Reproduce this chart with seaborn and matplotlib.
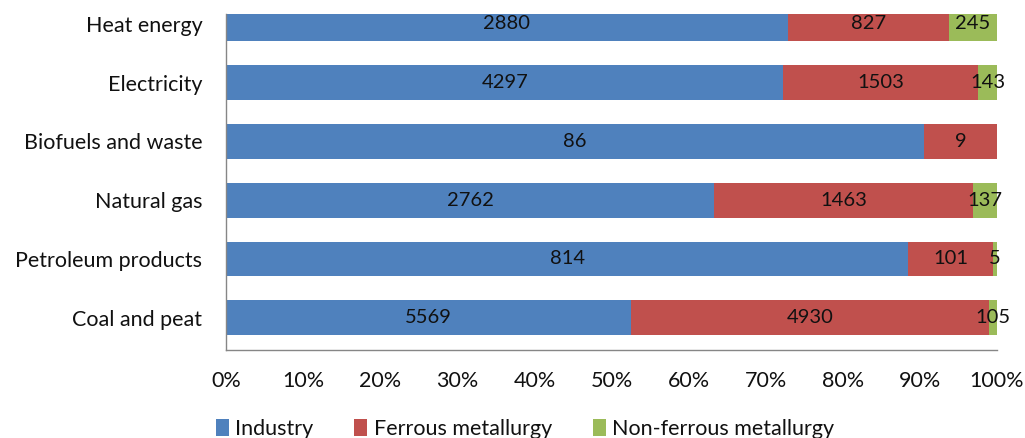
import numpy as np
import pandas as pd
import matplotlib
matplotlib.use("Agg")
import matplotlib.pyplot as plt
import seaborn as sns
from matplotlib.patches import Patch

categories = ["Heat energy", "Electricity", "Biofuels and waste",
              "Natural gas", "Petroleum products", "Coal and peat"]
industry = [2880, 4297, 86, 2762, 814, 5569]
ferrous = [827, 1503, 9, 1463, 101, 4930]
nonferrous = [245, 143, 0, 137, 5, 105]
series_names = ["Industry", "Ferrous metallurgy", "Non-ferrous metallurgy"]
colors = ["#4F81BD", "#C0504D", "#9BBB59"]
xtick_labels = ["0%", "10%", "20%", "30%", "40%", "50%", "60%", "70%", "80%", "90%", "100%"]

sns.set_style("white")
plt.rcParams["font.family"] = ["Lato", "DejaVu Sans"]

ind = np.array(industry, float)
fer = np.array(ferrous, float)
non = np.array(nonferrous, float)
tot = ind + fer + non
p_ind = ind / tot * 100
p_fer = fer / tot * 100
p_non = non / tot * 100

df = pd.DataFrame({
    "cat": categories,
    "c1": p_ind,
    "c2": p_ind + p_fer,
    "c3": p_ind + p_fer + p_non,
})

fig = plt.figure(figsize=(10.25, 4.38), dpi=100)
ax = fig.add_axes([226 / 1025, 1 - 350 / 438, (997 - 226) / 1025, (350 - 14) / 438])

w = 0.59
sns.barplot(data=df, x="c3", y="cat", order=categories, color=colors[2],
            saturation=1, width=w, linewidth=0, ax=ax, orient="h")
sns.barplot(data=df, x="c2", y="cat", order=categories, color=colors[1],
            saturation=1, width=w, linewidth=0, ax=ax, orient="h")
sns.barplot(data=df, x="c1", y="cat", order=categories, color=colors[0],
            saturation=1, width=w, linewidth=0, ax=ax, orient="h")

# labels centred in each segment
lefts = [np.zeros(len(categories)), p_ind, p_ind + p_fer]
widths = [p_ind, p_fer, p_non]
vals = [ind, fer, non]
for l, wd, v in zip(lefts, widths, vals):
    for i in range(len(categories)):
        if v[i] > 0:
            ax.text(l[i] + wd[i] / 2, i, f"{int(v[i])}", ha="center", va="center",
                    fontsize=14.5, color="#111111")

ax.set_xlim(0, 100)
ax.set_ylim(5.55, -0.17)
ax.set_xticks(np.arange(0, 101, 10))
ax.set_xticklabels(xtick_labels, fontsize=15.5, color="#111111")
ax.tick_params(axis="x", length=0, pad=15)
ax.tick_params(axis="y", length=0, pad=17, labelsize=15.5, labelcolor="#111111")
ax.set_xlabel("")
ax.set_ylabel("")
for s in ["top", "right"]:
    ax.spines[s].set_visible(False)
for s in ["left", "bottom"]:
    ax.spines[s].set_color("#868686")
    ax.spines[s].set_linewidth(1)

handles = [Patch(facecolor=c, edgecolor="none", label=n) for c, n in zip(colors, series_names)]
fig.legend(handles=handles, loc="center", bbox_to_anchor=(525 / 1025, 1 - 429 / 438),
           ncol=3, frameon=False, fontsize=15.5, handlelength=0.6, handleheight=0.8,
           handletextpad=0.3, columnspacing=1.9, labelcolor="#111111")

fig.savefig("out.png", dpi=100)
